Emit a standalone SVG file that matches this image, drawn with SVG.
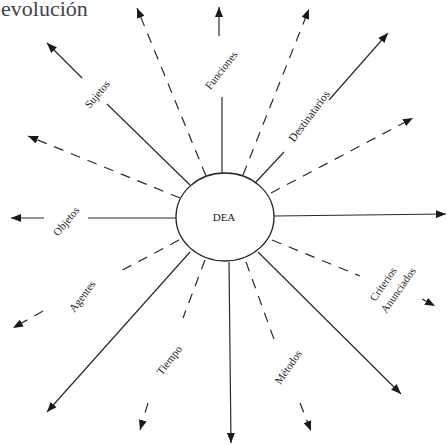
<svg xmlns="http://www.w3.org/2000/svg" width="447" height="446" viewBox="0 0 447 446">
<style>
.s{stroke:#2a2a2a;stroke-width:1.2;fill:none}
.d{stroke:#2a2a2a;stroke-width:1.2;fill:none;stroke-dasharray:10 8}
.lbl{font-family:"Liberation Serif","DejaVu Serif",serif;font-size:11px;fill:#222;text-anchor:middle;dominant-baseline:central}
.title{font-family:"Liberation Serif","DejaVu Serif",serif;font-size:22px;fill:#444}
</style>
<defs>
<marker id="ah" markerUnits="userSpaceOnUse" markerWidth="10" markerHeight="8" refX="10" refY="4" orient="auto">
<path d="M0,0 L10,4 L0,8 z" fill="#1a1a1a"/>
</marker>
</defs>
<rect width="447" height="446" fill="#fff"/>
<text class="title" x="1" y="16">evolución</text>
<g id="connectors">
<g id="c-funciones">
<line class="s" x1="222" y1="173" x2="222" y2="97"/>
<line class="s" x1="219" y1="36" x2="219" y2="7" marker-end="url(#ah)"/>
<text class="lbl" transform="translate(221,70) rotate(-52)">Funciones</text>
</g>
<g id="c-sujetos">
<line class="s" x1="190" y1="185" x2="107" y2="104"/>
<line class="s" x1="82" y1="78" x2="47" y2="43" marker-end="url(#ah)"/>
<text class="lbl" transform="translate(97,94) rotate(-50)">Sujetos</text>
</g>
<g id="c-destinatarios">
<line class="s" x1="256" y1="182" x2="284" y2="152"/>
<line class="s" x1="329" y1="100" x2="388" y2="33" marker-end="url(#ah)"/>
<text class="lbl" transform="translate(309,116) rotate(-53)" style="font-size:11.5px">Destinatarios</text>
</g>
<g id="c-objetos">
<line class="s" x1="176" y1="218" x2="88" y2="218"/>
<line class="s" x1="44" y1="218" x2="11" y2="218" marker-end="url(#ah)"/>
<text class="lbl" transform="translate(66,221) rotate(-50)">Objetos</text>
</g>
<g id="c-right">
<line class="s" x1="274" y1="216" x2="446" y2="214" marker-end="url(#ah)"/>
</g>
<g id="c-lowerleft">
<line class="s" x1="190" y1="252" x2="47" y2="412" marker-end="url(#ah)"/>
</g>
<g id="c-down">
<line class="s" x1="229" y1="262" x2="231" y2="443" marker-end="url(#ah)"/>
</g>
<g id="c-lowerright">
<line class="s" x1="258" y1="252" x2="401" y2="394" marker-end="url(#ah)"/>
</g>
<g id="c-dash-ul">
<line class="d" x1="206" y1="176" x2="137" y2="8" marker-end="url(#ah)"/>
</g>
<g id="c-dash-ur">
<line class="d" x1="243" y1="175" x2="309" y2="9" marker-end="url(#ah)"/>
</g>
<g id="c-dash-ru">
<line class="d" x1="271" y1="193" x2="413" y2="118" marker-end="url(#ah)"/>
</g>
<g id="c-dash-lu">
<line class="d" x1="180" y1="198" x2="28" y2="136" marker-end="url(#ah)"/>
</g>
<g id="c-agentes">
<line class="d" x1="179" y1="240" x2="117" y2="273"/>
<line class="d" x1="43" y1="311" x2="13" y2="328" marker-end="url(#ah)"/>
<text class="lbl" transform="translate(82,296) rotate(-53)">Agentes</text>
</g>
<g id="c-tiempo">
<line class="d" x1="205" y1="260" x2="183" y2="318"/>
<line class="d" x1="148" y1="403" x2="140" y2="430" marker-end="url(#ah)"/>
<text class="lbl" transform="translate(169,360) rotate(-52)">Tiempo</text>
</g>
<g id="c-metodos">
<line class="d" x1="246" y1="262" x2="275" y2="342"/>
<line class="d" x1="300" y1="403" x2="311" y2="431" marker-end="url(#ah)"/>
<text class="lbl" transform="translate(288,367) rotate(-55)">Métodos</text>
</g>
<g id="c-criterios">
<line class="d" x1="272" y1="240" x2="360" y2="276"/>
<line class="d" x1="422" y1="299" x2="435" y2="306" marker-end="url(#ah)"/>
<text class="lbl" transform="translate(383,284) rotate(-55)">Criterios</text>
<text class="lbl" transform="translate(398,290) rotate(-55)">Anunciados</text>
</g>
</g>
<g id="node-dea">
<ellipse cx="225" cy="217" rx="49" ry="44" fill="#fff" stroke="#222" stroke-width="1.3"/>
<text class="lbl" x="224" y="217">DEA</text>
</g>
</svg>
